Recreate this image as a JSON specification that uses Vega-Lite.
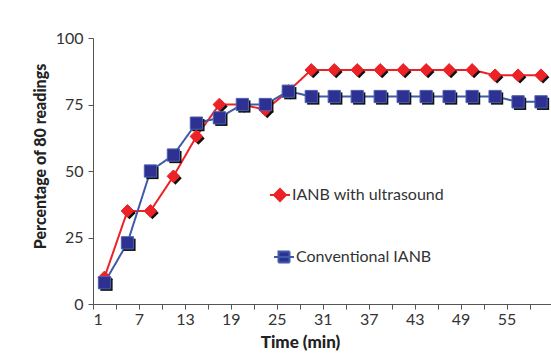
{
  "$schema": "https://vega.github.io/schema/vega-lite/v6.json",
  "width": 458,
  "height": 266,
  "autosize": "none",
  "padding": {"left": 93, "top": 38, "right": 0, "bottom": 50},
  "background": "white",
  "config": {
    "view": {"stroke": null},
    "font": "Lato",
    "axis": {"labelFont": "Lato", "titleFont": "Lato", "labelColor": "#333333", "titleColor": "#222222", "domainColor": "#555555", "tickColor": "#555555", "grid": false, "labelFontSize": 16, "titleFontSize": 16, "titleFontWeight": 900},
    "legend": {"labelFontSize": 16, "labelColor": "#333333", "labelFont": "Lato", "symbolSize": 400, "labelOffset": 1, "symbolStrokeWidth": 2, "orient": "none", "title": null, "symbolOpacity": 1}
  },
  "data": {
    "values": [
      {"t": 2.5, "v": 10, "s": "IANB with ultrasound"},
      {"t": 5.5, "v": 35, "s": "IANB with ultrasound"},
      {"t": 8.5, "v": 35, "s": "IANB with ultrasound"},
      {"t": 11.5, "v": 48, "s": "IANB with ultrasound"},
      {"t": 14.5, "v": 63, "s": "IANB with ultrasound"},
      {"t": 17.5, "v": 75, "s": "IANB with ultrasound"},
      {"t": 20.5, "v": 75, "s": "IANB with ultrasound"},
      {"t": 23.5, "v": 73, "s": "IANB with ultrasound"},
      {"t": 26.5, "v": 80, "s": "IANB with ultrasound"},
      {"t": 29.5, "v": 88, "s": "IANB with ultrasound"},
      {"t": 32.5, "v": 88, "s": "IANB with ultrasound"},
      {"t": 35.5, "v": 88, "s": "IANB with ultrasound"},
      {"t": 38.5, "v": 88, "s": "IANB with ultrasound"},
      {"t": 41.5, "v": 88, "s": "IANB with ultrasound"},
      {"t": 44.5, "v": 88, "s": "IANB with ultrasound"},
      {"t": 47.5, "v": 88, "s": "IANB with ultrasound"},
      {"t": 50.5, "v": 88, "s": "IANB with ultrasound"},
      {"t": 53.5, "v": 86, "s": "IANB with ultrasound"},
      {"t": 56.5, "v": 86, "s": "IANB with ultrasound"},
      {"t": 59.5, "v": 86, "s": "IANB with ultrasound"},
      {"t": 2.5, "v": 8, "s": "Conventional IANB"},
      {"t": 5.5, "v": 23, "s": "Conventional IANB"},
      {"t": 8.5, "v": 50, "s": "Conventional IANB"},
      {"t": 11.5, "v": 56, "s": "Conventional IANB"},
      {"t": 14.5, "v": 68, "s": "Conventional IANB"},
      {"t": 17.5, "v": 70, "s": "Conventional IANB"},
      {"t": 20.5, "v": 75, "s": "Conventional IANB"},
      {"t": 23.5, "v": 75, "s": "Conventional IANB"},
      {"t": 26.5, "v": 80, "s": "Conventional IANB"},
      {"t": 29.5, "v": 78, "s": "Conventional IANB"},
      {"t": 32.5, "v": 78, "s": "Conventional IANB"},
      {"t": 35.5, "v": 78, "s": "Conventional IANB"},
      {"t": 38.5, "v": 78, "s": "Conventional IANB"},
      {"t": 41.5, "v": 78, "s": "Conventional IANB"},
      {"t": 44.5, "v": 78, "s": "Conventional IANB"},
      {"t": 47.5, "v": 78, "s": "Conventional IANB"},
      {"t": 50.5, "v": 78, "s": "Conventional IANB"},
      {"t": 53.5, "v": 78, "s": "Conventional IANB"},
      {"t": 56.5, "v": 76, "s": "Conventional IANB"},
      {"t": 59.5, "v": 76, "s": "Conventional IANB"}
    ]
  },
  "encoding": {
    "x": {"field": "t", "type": "quantitative", "scale": {"domain": [1, 60.8], "nice": false, "zero": false},
      "axis": {"title": "Time (min)", "values": [1,4,7,10,13,16,19,22,25,28,31,34,37,40,43,46,49,52,55,58], "labelExpr": "(datum.value - 1) % 6 == 0 ? datum.label : ''", "tickSize": 5, "labelPadding": 2, "titleX": 207, "titleY": 38, "titleBaseline": "middle", "titleFontSize": 17}},
    "y": {"field": "v", "type": "quantitative", "scale": {"domain": [0, 100], "nice": false},
      "axis": {"title": "Percentage of 80 readings", "values": [0,25,50,75,100], "tickSize": 5, "labelPadding": 5, "titleX": -53, "titleY": 118, "titleBaseline": "middle", "titleAlign": "center", "titleAngle": -90}},
    "order": {"field": "t"}
  },
  "layer": [
    {
      "mark": {"type": "line", "strokeWidth": 2},
      "encoding": {
        "detail": {"field": "s"},
        "color": {"field": "s", "type": "nominal",
          "scale": {"domain": ["IANB with ultrasound", "Conventional IANB"], "range": ["#ec2227", "#3f5aa8"]},
          "legend": {"values": ["IANB with ultrasound"], "legendX": 176, "legendY": 146, "symbolType": "M-1,0L1,0M-0.6,0L0,-0.6L0.6,0L0,0.6Z", "symbolFillColor": "#ec2227", "symbolStrokeColor": "#ec2227"}},
        "strokeDash": {"field": "s", "type": "nominal",
          "scale": {"domain": ["Conventional IANB", "IANB with ultrasound"], "range": [[1, 0], [1, 0]]},
          "legend": {"values": ["Conventional IANB"], "legendX": 180, "legendY": 208, "symbolType": "M-1,0L1,0M-0.55,-0.55L0.55,-0.55L0.55,0.55L-0.55,0.55Z", "symbolFillColor": "#2e3192", "symbolStrokeColor": "#3f5aa8"}}
      }
    },
    {
      "mark": {"type": "point", "filled": true, "opacity": 1, "xOffset": 2, "yOffset": 2, "color": "#111111"},
      "encoding": {
        "shape": {"field": "s", "type": "nominal", "sort": "descending", "scale": {"range": ["diamond", "square"]}, "legend": null},
        "size": {"field": "s", "type": "nominal", "sort": "descending", "scale": {"range": [160, 150]}, "legend": null}
      }
    },
    {
      "mark": {"type": "point", "filled": true, "opacity": 1, "strokeWidth": 1},
      "encoding": {
        "shape": {"field": "s", "type": "nominal", "sort": "descending", "scale": {"range": ["diamond", "square"]}, "legend": null},
        "size": {"field": "s", "type": "nominal", "sort": "descending", "scale": {"range": [160, 150]}, "legend": null},
        "fill": {"field": "s", "type": "nominal", "sort": "descending", "scale": {"range": ["#ec2227", "#2e3192"]}, "legend": null},
        "stroke": {"field": "s", "type": "nominal", "sort": "descending", "scale": {"range": ["#ec2227", "#4a62b0"]}, "legend": null}
      }
    }
  ]
}
